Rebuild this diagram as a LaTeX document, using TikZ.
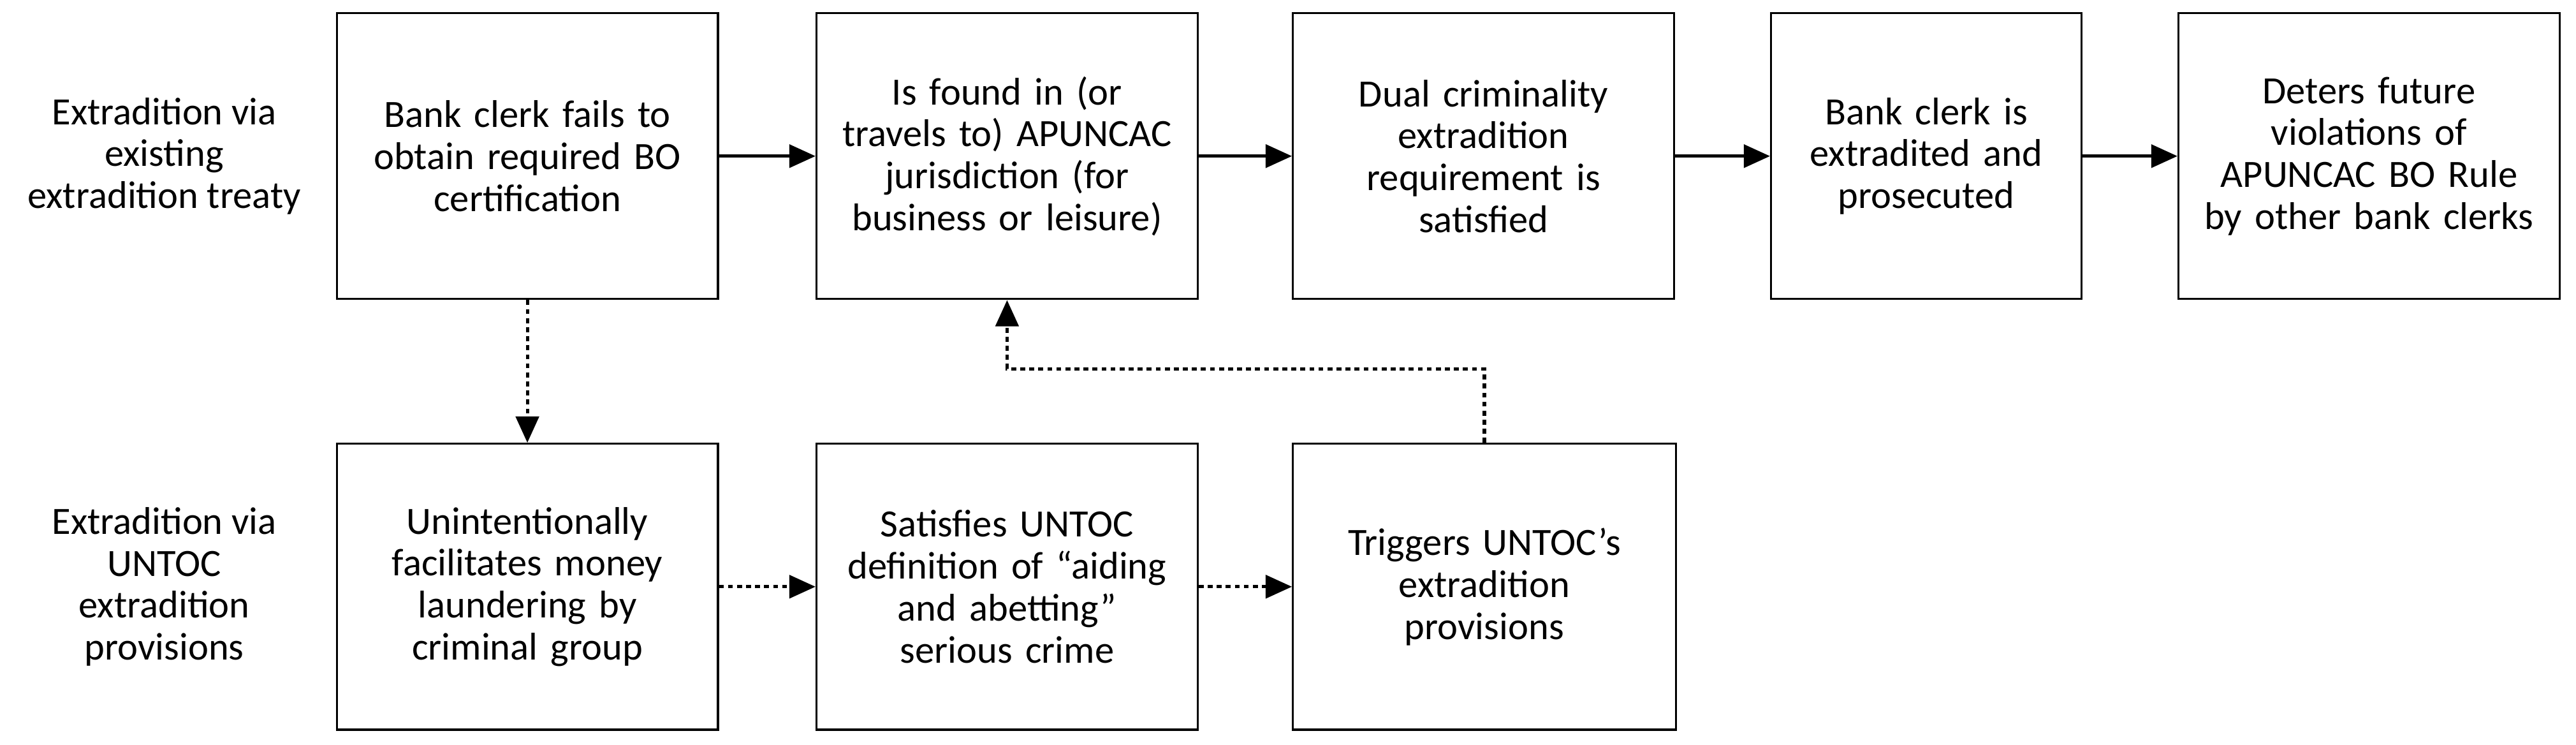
\documentclass[tikz,border=0pt]{standalone}
\usepackage{fontspec}
\setmainfont{Carlito}
\usetikzlibrary{arrows.meta}
\begin{document}
\begin{tikzpicture}[x=1pt,y=-1pt,
  box/.style={draw,line width=1.2pt,minimum height=174pt,align=center,font=\fontsize{23.5}{25.5}\selectfont,inner sep=4pt},
  lab/.style={align=center,font=\fontsize{23.5}{25.5}\selectfont},
  arr/.style={-{Triangle[length=16pt,width=14pt]},line width=2pt},
  darr/.style={arr,dash pattern=on 3pt off 2.5pt}]
\useasboundingbox (0,0) rectangle (1568,453);
\node[box,minimum width=232pt,text width=224pt] (b1) at (321,95) {Bank clerk fails to\\obtain required BO\\certification};
\node[box,minimum width=232pt,text width=224pt] (b2) at (613,95) {Is found in (or\\travels to) APUNCAC\\jurisdiction (for\\business or leisure)};
\node[box,minimum width=232pt,text width=224pt] (b3) at (903,95) {Dual criminality\\extradition\\requirement is\\satisfied};
\node[box,minimum width=189pt,text width=181pt] (b4) at (1172.5,95) {Bank clerk is\\extradited and\\prosecuted};
\node[box,minimum width=232pt,text width=224pt] (b5) at (1442,95) {Deters future\\violations of\\APUNCAC BO Rule\\by other bank clerks};
\node[box,minimum width=232pt,text width=224pt] (b6) at (321,357) {Unintentionally\\facilitates money\\laundering by\\criminal group};
\node[box,minimum width=232pt,text width=224pt] (b7) at (613,357) {Satisfies UNTOC\\definition of “aiding\\and abetting”\\serious crime};
\node[box,minimum width=233pt,text width=224pt] (b8) at (903.5,357) {Triggers UNTOC’s\\extradition\\provisions};
\node[lab] (l1) at (100,95) {Extradition via\\existing\\extradition treaty};
\node[lab] (l2) at (100,357) {Extradition via\\UNTOC\\extradition\\provisions};
\draw[arr] (b1) -- (b2);
\draw[arr] (b2) -- (b3);
\draw[arr] (b3) -- (b4);
\draw[arr] (b4) -- (b5);
\draw[darr] (b1) -- (b6);
\draw[darr] (b6) -- (b7);
\draw[darr] (b7) -- (b8);
\draw[darr] (b8.north) -- ++(0,-45) -| (b2.south);
\end{tikzpicture}
\end{document}
